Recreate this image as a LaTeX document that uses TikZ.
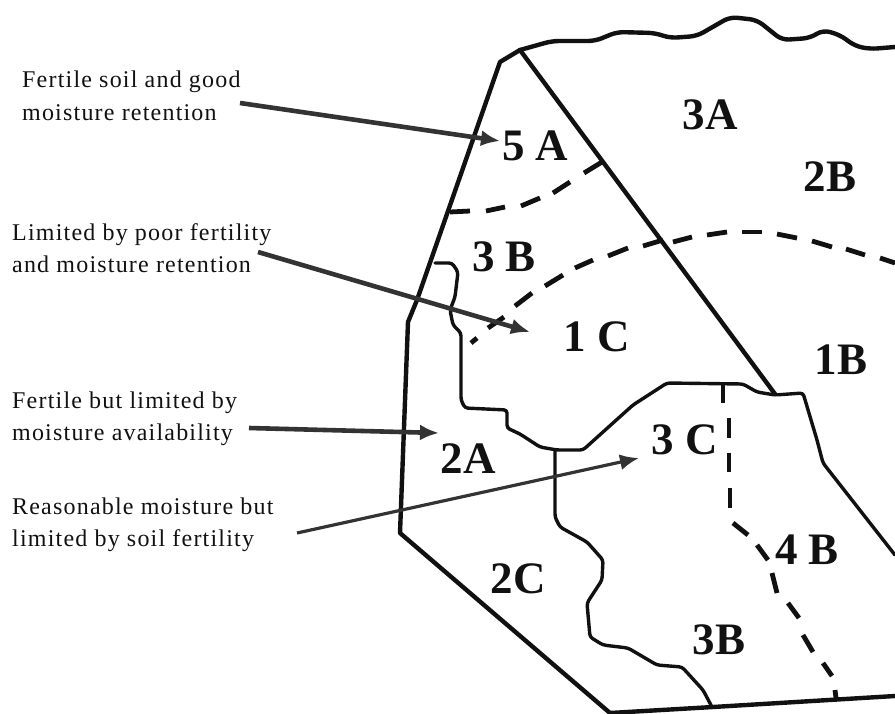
\documentclass[tikz,border=0pt]{standalone}
\usepackage{fontspec}
\setmainfont{Liberation Serif}
\newfontfamily\capfont[LetterSpace=5]{Liberation Serif}
\usetikzlibrary{arrows.meta}
\definecolor{ink}{HTML}{111111}
\definecolor{arrowink}{HTML}{333333}
\tikzset{
  outline/.style={draw=ink,line width=4.4pt,line join=round,line cap=round},
  wavy/.style={outline,rounded corners=7pt},
  innerline/.style={draw=ink,line width=3.4pt,line join=round,line cap=round,rounded corners=3pt},
  dashpiece/.style={draw=ink,line width=4.8pt},
  pointer/.style={draw=arrowink,line width=4.6pt,-{Latex[length=19pt,width=16pt]}},
  caption/.style={font=\capfont\fontsize{24}{32.5}\selectfont,align=left,anchor=west,inner sep=0pt,text=ink},
  region/.style={font=\fontsize{45}{45}\selectfont\bfseries,inner sep=0pt,text=ink}
}
\begin{document}
\begin{tikzpicture}[x=1pt,y=-1pt]
\useasboundingbox (0,0) rectangle (895,713);
% outer boundary
\draw[wavy] (895,47) -- (870,49) -- (855,46) -- (840,35) -- (823,30) -- (810,38) -- (782,40) -- (757,20) -- (730,17) -- (697,36) -- (670,38) -- (655,33) -- (617,32) -- (595,41) -- (552,41) -- (520,50);
\draw[outline] (520,50) -- (500,62) -- (417,300) -- (408,322) -- (400,533) -- (610,713);
\draw[outline] (610,713) -- (713,707) -- (895,696);
\draw[outline] (520,50) -- (775,394);
% soil boundaries
\draw[innerline] (435,263) -- (452,263) -- (458,272) -- (455,297) -- (450,310) -- (453,325) -- (461,333) -- (461,400) -- (465,408) -- (507,410) -- (507,428) -- (520,434) -- (540,447) -- (557,450) -- (583,450) -- (633,405) -- (667,383) -- (743,384) -- (757,392) -- (775,395) -- (803,393) -- (817,440) -- (823,463) -- (895,555);
\draw[innerline] (555,450) -- (555,517) -- (560,527) -- (587,542) -- (603,560) -- (602,580) -- (587,603) -- (590,637) -- (603,645) -- (628,648) -- (657,665) -- (682,667) -- (703,690) -- (712,707);
% dashed line 5A
\foreach \a/\b/\c/\d in {450/212/470/211,486/211/505/207,521/206/540/198,553/193/570/182,584/173/602/162}
  \draw[dashpiece] (\a,\b) -- (\c,\d);
% dashed arc
\foreach \a/\b/\c/\d in {471/343/477/338,488/328/504/317,515/306/532/293,545/286/563/275,575/268/593/260,608/256/628/248,643/246/663/240,673/242/692/237,707/235/727/232,742/232/762/232,777/234/797/238,812/241/832/247,846/249/865/255,880/258/895/263}
  \draw[dashpiece] (\a,\b) -- (\c,\d);
% dashed line 4B
\foreach \a/\b/\c/\d in {723/385/723/403,729/418/729/438,729/453/729/472,730/488/730/508,733/523/748/535,757/545/768/560,772/573/777/593,788/603/799/618,803/635/813/652,823/663/832/676,835/690/836/698}
  \draw[dashpiece] (\a,\b) -- (\c,\d);
% region labels
\node[region] (r5a) at (535,146) {5\kern-1pt\ A};
\node[region] (r3a) at (710,115) {3A};
\node[region] (r2b) at (830,177) {2B};
\node[region] (r3bu) at (504,257) {3 B};
\node[region] (r1c) at (597,337) {1 C};
\node[region] (r1b) at (841,360) {1B};
\node[region] (r3c) at (685,440) {3 C};
\node[region] (r2a) at (468,459) {2A};
\node[region] (r4b) at (807,550) {4 B};
\node[region] (r2c) at (518,579) {2C};
\node[region] (r3bl) at (719,640) {3B};
% captions
\node[caption] (c1) at (22,96) {Fertile soil and good\\moisture retention};
\node[caption] (c2) at (12,248) {Limited by poor fertility\\and moisture retention};
\node[caption] (c3) at (12,419) {Fertile but limited by\\moisture availability};
\node[caption] (c4) at (12,525) {Reasonable moisture but\\limited by soil fertility};
% pointers
\coordinate (s1) at (240,103); \coordinate (e1) at (500,141);
\coordinate (s2) at (258,252); \coordinate (e2) at (530,332);
\coordinate (s3) at (249,428); \coordinate (e3) at (439,433);
\coordinate (s4) at (297,533); \coordinate (e4) at (639,458);
\draw[pointer] (s1) -- (e1);
\draw[pointer] (s2) -- (e2);
\draw[pointer] (s3) -- (e3);
\draw[pointer,line width=3.2pt] (s4) -- (e4);
\end{tikzpicture}
\end{document}
